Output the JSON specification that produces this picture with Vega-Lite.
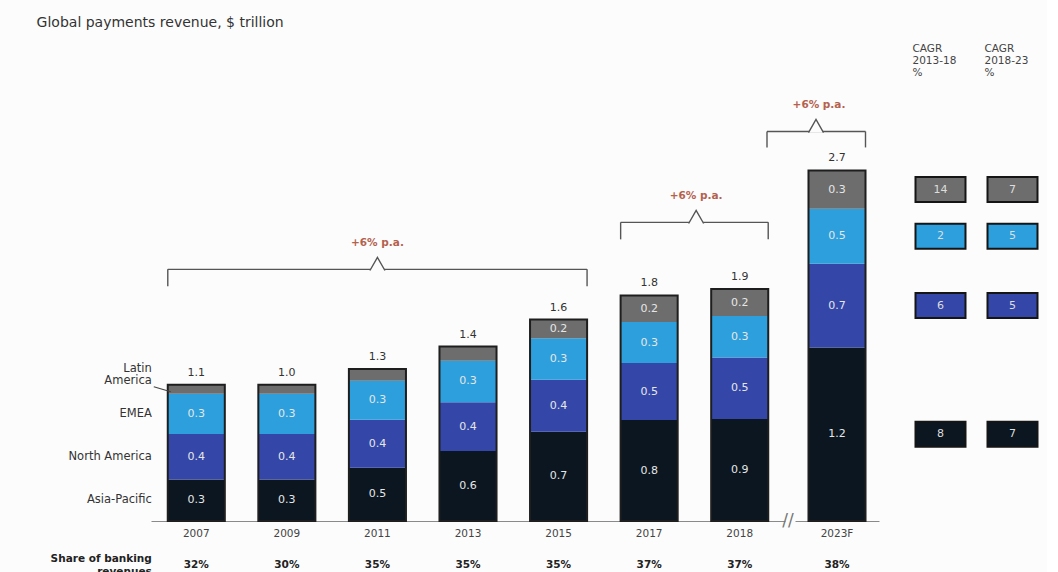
{
  "$schema": "https://vega.github.io/schema/vega-lite/v6.json",
  "background": "#fcfcfc",
  "padding": {"left": 36, "top": 16, "right": 5, "bottom": 0},
  "title": {"text": "Global payments revenue, $ trillion", "anchor": "start", "frame": "bounds", "fontSize": 14, "fontWeight": "normal", "color": "#333333", "font": "DejaVu Sans", "offset": 14, "dx": -14},
  "datasets": {
    "segments": [
      {"year": "2007", "region": "Asia-Pacific", "value": 0.32, "label": "0.3"},
      {"year": "2007", "region": "North America", "value": 0.35, "label": "0.4"},
      {"year": "2007", "region": "EMEA", "value": 0.31, "label": "0.3"},
      {"year": "2007", "region": "Latin America", "value": 0.07, "label": ""},
      {"year": "2009", "region": "Asia-Pacific", "value": 0.32, "label": "0.3"},
      {"year": "2009", "region": "North America", "value": 0.35, "label": "0.4"},
      {"year": "2009", "region": "EMEA", "value": 0.31, "label": "0.3"},
      {"year": "2009", "region": "Latin America", "value": 0.07, "label": ""},
      {"year": "2011", "region": "Asia-Pacific", "value": 0.41, "label": "0.5"},
      {"year": "2011", "region": "North America", "value": 0.37, "label": "0.4"},
      {"year": "2011", "region": "EMEA", "value": 0.30, "label": "0.3"},
      {"year": "2011", "region": "Latin America", "value": 0.09, "label": ""},
      {"year": "2013", "region": "Asia-Pacific", "value": 0.54, "label": "0.6"},
      {"year": "2013", "region": "North America", "value": 0.375, "label": "0.4"},
      {"year": "2013", "region": "EMEA", "value": 0.32, "label": "0.3"},
      {"year": "2013", "region": "Latin America", "value": 0.108, "label": ""},
      {"year": "2015", "region": "Asia-Pacific", "value": 0.687, "label": "0.7"},
      {"year": "2015", "region": "North America", "value": 0.40, "label": "0.4"},
      {"year": "2015", "region": "EMEA", "value": 0.32, "label": "0.3"},
      {"year": "2015", "region": "Latin America", "value": 0.144, "label": "0.2"},
      {"year": "2017", "region": "Asia-Pacific", "value": 0.777, "label": "0.8"},
      {"year": "2017", "region": "North America", "value": 0.44, "label": "0.5"},
      {"year": "2017", "region": "EMEA", "value": 0.315, "label": "0.3"},
      {"year": "2017", "region": "Latin America", "value": 0.205, "label": "0.2"},
      {"year": "2018", "region": "Asia-Pacific", "value": 0.785, "label": "0.9"},
      {"year": "2018", "region": "North America", "value": 0.475, "label": "0.5"},
      {"year": "2018", "region": "EMEA", "value": 0.318, "label": "0.3"},
      {"year": "2018", "region": "Latin America", "value": 0.208, "label": "0.2"},
      {"year": "2023F", "region": "Asia-Pacific", "value": 1.336, "label": "1.2"},
      {"year": "2023F", "region": "North America", "value": 0.646, "label": "0.7"},
      {"year": "2023F", "region": "EMEA", "value": 0.423, "label": "0.5"},
      {"year": "2023F", "region": "Latin America", "value": 0.295, "label": "0.3"}
    ],
    "years": [
      {"year": "2007", "total": "1.1", "share": "32%"},
      {"year": "2009", "total": "1.0", "share": "30%"},
      {"year": "2011", "total": "1.3", "share": "35%"},
      {"year": "2013", "total": "1.4", "share": "35%"},
      {"year": "2015", "total": "1.6", "share": "35%"},
      {"year": "2017", "total": "1.8", "share": "37%"},
      {"year": "2018", "total": "1.9", "share": "37%"},
      {"year": "2023F", "total": "2.7", "share": "38%"}
    ],
    "cagr": [
      {"region": "Latin America", "CAGR 2013-18 %": "14", "CAGR 2018-23 %": "7"},
      {"region": "EMEA", "CAGR 2013-18 %": "2", "CAGR 2018-23 %": "5"},
      {"region": "North America", "CAGR 2013-18 %": "6", "CAGR 2018-23 %": "5"},
      {"region": "Asia-Pacific", "CAGR 2013-18 %": "8", "CAGR 2018-23 %": "7"}
    ]
  },
  "spacing": 10,
  "bounds": "flush",
  "hconcat": [
    {
      "width": 634,
      "height": 422,
      "data": {"name": "segments"},
      "transform": [
        {"filter": {"not": {"field": "year", "equal": "2023F"}}},
        {"stack": "value", "groupby": ["year"], "as": ["v0", "v1"]}
      ],
      "encoding": {
        "x": {"field": "year", "type": "nominal", "sort": null, "scale": {"domain": ["2007", "2009", "2011", "2013", "2015", "2017", "2018"], "paddingInner": 0.37, "paddingOuter": 0.185}, "axis": {"title": null}}
      },
      "layer": [
        {
          "mark": {"type": "bar"},
          "encoding": {
            "y": {"field": "v1", "type": "quantitative", "scale": {"domain": [0, 3.25], "nice": false, "zero": true}, "axis": null},
            "y2": {"field": "v0"},
            "color": {"field": "region", "type": "nominal", "scale": {"domain": ["Latin America", "EMEA", "North America", "Asia-Pacific"], "range": ["#6d6d6d", "#2c9fdc", "#3447a8", "#0b1620"]}, "legend": null}
          }
        },
        {
          "transform": [{"aggregate": [{"op": "max", "field": "v1", "as": "top"}], "groupby": ["year"]}],
          "mark": {"type": "bar", "fillOpacity": 0, "stroke": "#1e1e1e", "strokeWidth": 2},
          "encoding": {"y": {"field": "top", "type": "quantitative", "axis": null}, "y2": {"datum": 0}}
        },
        {
          "transform": [
            {"fold": ["v0", "v1"], "as": ["edge", "pos"]},
            {"aggregate": [{"op": "mean", "field": "pos", "as": "mid"}], "groupby": ["year", "region", "label"]}
          ],
          "mark": {"type": "text", "color": "#e6e6e6", "fontSize": 11},
          "encoding": {"y": {"field": "mid", "type": "quantitative", "axis": null}, "text": {"field": "label"}}
        },
        {
          "transform": [
            {"aggregate": [{"op": "max", "field": "v1", "as": "top"}], "groupby": ["year"]},
            {"lookup": "year", "from": {"data": {"name": "years"}, "key": "year", "fields": ["total", "share"]}}
          ],
          "mark": {"type": "text", "dy": -12, "color": "#333333", "fontSize": 11},
          "encoding": {"y": {"field": "top", "type": "quantitative", "axis": null}, "text": {"field": "total"}}
        },
        {
          "transform": [
            {"aggregate": [{"op": "max", "field": "v1", "as": "top"}], "groupby": ["year"]},
            {"lookup": "year", "from": {"data": {"name": "years"}, "key": "year", "fields": ["total", "share"]}}
          ],
          "mark": {"type": "text", "dy": 44, "color": "#222222", "fontSize": 10.5, "fontWeight": "bold"},
          "encoding": {"y": {"datum": 0}, "text": {"field": "share"}}
        },
        {
          "transform": [
            {"filter": {"field": "year", "equal": "2007"}},
            {"fold": ["v0", "v1"], "as": ["edge", "pos"]},
            {"aggregate": [{"op": "mean", "field": "pos", "as": "mid"}], "groupby": ["year", "region"]},
            {"filter": {"not": {"field": "region", "equal": "Latin America"}}}
          ],
          "mark": {"type": "text", "align": "right", "dx": -44.5, "color": "#333333", "fontSize": 11.5},
          "encoding": {"y": {"field": "mid", "type": "quantitative", "axis": null}, "text": {"field": "region"}}
        },
        {
          "transform": [
            {"filter": {"field": "year", "equal": "2007"}},
            {"fold": ["v0", "v1"], "as": ["edge", "pos"]},
            {"aggregate": [{"op": "mean", "field": "pos", "as": "mid"}], "groupby": ["year", "region"]},
            {"filter": {"field": "region", "equal": "Latin America"}}
          ],
          "mark": {"type": "text", "align": "right", "dx": -44.5, "dy": -20.5, "lineBreak": " ", "lineHeight": 12, "color": "#333333", "fontSize": 11.5},
          "encoding": {"y": {"field": "mid", "type": "quantitative", "axis": null}, "text": {"field": "region"}}
        },
        {
          "transform": [
            {"filter": {"field": "year", "equal": "2007"}},
            {"fold": ["v0", "v1"], "as": ["edge", "pos"]},
            {"aggregate": [{"op": "mean", "field": "pos", "as": "mid"}], "groupby": ["year", "region"]},
            {"filter": {"field": "region", "equal": "Latin America"}}
          ],
          "mark": {"type": "rule", "color": "#444444", "strokeWidth": 1.2, "xOffset": -42.5, "x2Offset": -25.5, "yOffset": -2.5, "y2Offset": 2.5},
          "encoding": {"x2": {"field": "year"}, "y": {"field": "mid", "type": "quantitative", "axis": null}, "y2": {"field": "mid"}}
        },
        {
          "data": {"values": [{"year": "2007", "text": "Share of banking\nrevenues"}]},
          "mark": {"type": "text", "align": "right", "dx": -44.5, "dy": 38, "lineBreak": "\n", "lineHeight": 13, "fontWeight": "bold", "fontSize": 10.5, "color": "#222222"},
          "encoding": {"y": {"datum": 0}, "text": {"field": "text"}}
        },
        {
          "data": {"values": [{"label": "+6% p.a."}]},
          "mark": {"type": "rule", "color": "#555555", "strokeWidth": 1.4, "xOffset": -28.5, "x2Offset": 28.5},
          "encoding": {"x": {"datum": "2007"}, "x2": {"datum": "2015"}, "y": {"datum": 1.938}}
        },
        {
          "data": {"values": [{"label": "+6% p.a."}]},
          "mark": {"type": "rule", "color": "#555555", "strokeWidth": 1.4, "xOffset": -28.5},
          "encoding": {"x": {"datum": "2007"}, "y": {"datum": 1.938}, "y2": {"datum": 1.808}}
        },
        {
          "data": {"values": [{"label": "+6% p.a."}]},
          "mark": {"type": "rule", "color": "#555555", "strokeWidth": 1.4, "xOffset": 28.5},
          "encoding": {"x": {"datum": "2015"}, "y": {"datum": 1.938}, "y2": {"datum": 1.808}}
        },
        {
          "data": {"values": [{"label": "+6% p.a."}]},
          "mark": {"type": "point", "shape": "M-1,0.15L0,-1.6L1,0.15", "size": 225, "filled": true, "fill": "#fcfcfc", "stroke": "#555555", "strokeWidth": 1.4, "opacity": 1},
          "encoding": {"x": {"datum": "2011"}, "y": {"datum": 1.938}}
        },
        {
          "data": {"values": [{"label": "+6% p.a."}]},
          "mark": {"type": "text", "dy": -26, "color": "#b4624e", "fontSize": 10.5, "fontWeight": 600},
          "encoding": {"x": {"datum": "2011"}, "y": {"datum": 1.938}, "text": {"field": "label"}}
        },
        {
          "data": {"values": [{"label": "+6% p.a."}]},
          "mark": {"type": "rule", "color": "#555555", "strokeWidth": 1.4, "xOffset": -28.5, "x2Offset": 28.5},
          "encoding": {"x": {"datum": "2017"}, "x2": {"datum": "2018"}, "y": {"datum": 2.30}}
        },
        {
          "data": {"values": [{"label": "+6% p.a."}]},
          "mark": {"type": "rule", "color": "#555555", "strokeWidth": 1.4, "xOffset": -28.5},
          "encoding": {"x": {"datum": "2017"}, "y": {"datum": 2.30}, "y2": {"datum": 2.169}}
        },
        {
          "data": {"values": [{"label": "+6% p.a."}]},
          "mark": {"type": "rule", "color": "#555555", "strokeWidth": 1.4, "xOffset": 28.5},
          "encoding": {"x": {"datum": "2018"}, "y": {"datum": 2.30}, "y2": {"datum": 2.169}}
        },
        {
          "data": {"values": [{"label": "+6% p.a."}]},
          "mark": {"type": "point", "shape": "M-1,0.15L0,-1.6L1,0.15", "size": 225, "filled": true, "fill": "#fcfcfc", "stroke": "#555555", "strokeWidth": 1.4, "opacity": 1, "xOffset": 47},
          "encoding": {"x": {"datum": "2017"}, "y": {"datum": 2.30}}
        },
        {
          "data": {"values": [{"label": "+6% p.a."}]},
          "mark": {"type": "text", "dy": -26, "dx": 47, "color": "#b4624e", "fontSize": 10.5, "fontWeight": 600},
          "encoding": {"x": {"datum": "2017"}, "y": {"datum": 2.30}, "text": {"field": "label"}}
        }
      ]
    },
    {
      "width": 84,
      "height": 422,
      "data": {"name": "segments"},
      "transform": [
        {"filter": {"field": "year", "equal": "2023F"}},
        {"stack": "value", "groupby": ["year"], "as": ["v0", "v1"]}
      ],
      "encoding": {
        "x": {"field": "year", "type": "nominal", "sort": null, "scale": {"domain": ["2023F"], "paddingInner": 0.37, "paddingOuter": 0.149}, "axis": {"title": null}}
      },
      "layer": [
        {
          "mark": {"type": "bar"},
          "encoding": {
            "y": {"field": "v1", "type": "quantitative", "scale": {"domain": [0, 3.25], "nice": false, "zero": true}, "axis": null},
            "y2": {"field": "v0"},
            "color": {"field": "region", "type": "nominal", "scale": {"domain": ["Latin America", "EMEA", "North America", "Asia-Pacific"], "range": ["#6d6d6d", "#2c9fdc", "#3447a8", "#0b1620"]}, "legend": null}
          }
        },
        {
          "transform": [{"aggregate": [{"op": "max", "field": "v1", "as": "top"}], "groupby": ["year"]}],
          "mark": {"type": "bar", "fillOpacity": 0, "stroke": "#1e1e1e", "strokeWidth": 2},
          "encoding": {"y": {"field": "top", "type": "quantitative", "axis": null}, "y2": {"datum": 0}}
        },
        {
          "transform": [
            {"fold": ["v0", "v1"], "as": ["edge", "pos"]},
            {"aggregate": [{"op": "mean", "field": "pos", "as": "mid"}], "groupby": ["year", "region", "label"]}
          ],
          "mark": {"type": "text", "color": "#e6e6e6", "fontSize": 11},
          "encoding": {"y": {"field": "mid", "type": "quantitative", "axis": null}, "text": {"field": "label"}}
        },
        {
          "transform": [
            {"aggregate": [{"op": "max", "field": "v1", "as": "top"}], "groupby": ["year"]},
            {"lookup": "year", "from": {"data": {"name": "years"}, "key": "year", "fields": ["total", "share"]}}
          ],
          "mark": {"type": "text", "dy": -12, "color": "#333333", "fontSize": 11},
          "encoding": {"y": {"field": "top", "type": "quantitative", "axis": null}, "text": {"field": "total"}}
        },
        {
          "transform": [
            {"aggregate": [{"op": "max", "field": "v1", "as": "top"}], "groupby": ["year"]},
            {"lookup": "year", "from": {"data": {"name": "years"}, "key": "year", "fields": ["total", "share"]}}
          ],
          "mark": {"type": "text", "dy": 44, "color": "#222222", "fontSize": 10.5, "fontWeight": "bold"},
          "encoding": {"y": {"datum": 0}, "text": {"field": "share"}}
        },
        {
          "data": {"values": [{"year": "2023F", "text": "//"}]},
          "mark": {"type": "text", "dx": -49, "color": "#777777", "fontSize": 17},
          "encoding": {"y": {"datum": 0}, "text": {"field": "text"}}
        },
        {
          "data": {"values": [{"label": "+6% p.a."}]},
          "mark": {"type": "rule", "color": "#555555", "strokeWidth": 1.4, "xOffset": -70, "x2Offset": 28.5},
          "encoding": {"x": {"datum": "2023F"}, "x2": {"datum": "2023F"}, "y": {"datum": 3.0}}
        },
        {
          "data": {"values": [{"label": "+6% p.a."}]},
          "mark": {"type": "rule", "color": "#555555", "strokeWidth": 1.4, "xOffset": -70},
          "encoding": {"x": {"datum": "2023F"}, "y": {"datum": 3.0}, "y2": {"datum": 2.877}}
        },
        {
          "data": {"values": [{"label": "+6% p.a."}]},
          "mark": {"type": "rule", "color": "#555555", "strokeWidth": 1.4, "xOffset": 28.5},
          "encoding": {"x": {"datum": "2023F"}, "y": {"datum": 3.0}, "y2": {"datum": 2.877}}
        },
        {
          "data": {"values": [{"label": "+6% p.a."}]},
          "mark": {"type": "point", "shape": "M-1,0.15L0,-1.6L1,0.15", "size": 225, "filled": true, "fill": "#fcfcfc", "stroke": "#555555", "strokeWidth": 1.4, "opacity": 1, "xOffset": -21},
          "encoding": {"x": {"datum": "2023F"}, "y": {"datum": 3.0}}
        },
        {
          "data": {"values": [{"label": "+6% p.a."}]},
          "mark": {"type": "text", "dy": -26, "dx": -18, "color": "#b4624e", "fontSize": 10.5, "fontWeight": 600},
          "encoding": {"x": {"datum": "2023F"}, "y": {"datum": 3.0}, "text": {"field": "label"}}
        }
      ]
    },
    {
      "width": 123.5,
      "height": 422,
      "data": {"name": "segments"},
      "transform": [
        {"filter": {"field": "year", "equal": "2023F"}},
        {"stack": "value", "groupby": ["year"], "as": ["v0", "v1"]},
        {"fold": ["v0", "v1"], "as": ["edge", "pos"]},
        {"aggregate": [{"op": "mean", "field": "pos", "as": "mid"}], "groupby": ["region"]},
        {"lookup": "region", "from": {"data": {"name": "cagr"}, "key": "region", "fields": ["CAGR 2013-18 %", "CAGR 2018-23 %"]}},
        {"fold": ["CAGR 2013-18 %", "CAGR 2018-23 %"], "as": ["period", "cagr"]}
      ],
      "encoding": {
        "x": {"field": "period", "type": "nominal", "sort": null, "scale": {"type": "point", "domain": ["CAGR 2013-18 %", "CAGR 2018-23 %"], "padding": 0.3576, "align": 1}, "axis": null},
        "y": {"field": "mid", "type": "quantitative", "scale": {"domain": [0, 3.25], "nice": false, "zero": true}, "axis": null}
      },
      "layer": [
        {
          "mark": {"type": "point", "shape": "M-1,-0.5H1V0.5H-1Z", "size": 2500, "filled": true, "opacity": 1, "stroke": "#151515", "strokeWidth": 2},
          "encoding": {
            "color": {"field": "region", "type": "nominal", "scale": {"domain": ["Latin America", "EMEA", "North America", "Asia-Pacific"], "range": ["#6d6d6d", "#2c9fdc", "#3447a8", "#0b1620"]}, "legend": null}
          }
        },
        {
          "mark": {"type": "text", "color": "#dddddd", "fontSize": 11},
          "encoding": {"text": {"field": "cagr"}}
        },
        {
          "transform": [{"filter": {"field": "region", "equal": "Asia-Pacific"}}],
          "mark": {"type": "text", "align": "left", "baseline": "top", "dy": -55, "dx": -28, "lineBreak": " ", "lineHeight": 12, "color": "#444444", "fontSize": 10.5},
          "encoding": {"y": {"datum": 3.25}, "text": {"field": "period"}}
        }
      ]
    }
  ],
  "config": {
    "view": {"stroke": null},
    "font": "DejaVu Sans",
    "axisX": {"ticks": false, "labelAngle": 0, "domainColor": "#8a8a8a", "labelColor": "#444444", "labelFontSize": 10.5, "labelPadding": 7, "labelFont": "DejaVu Sans", "grid": false},
    "axisY": {"disable": true}
  }
}
